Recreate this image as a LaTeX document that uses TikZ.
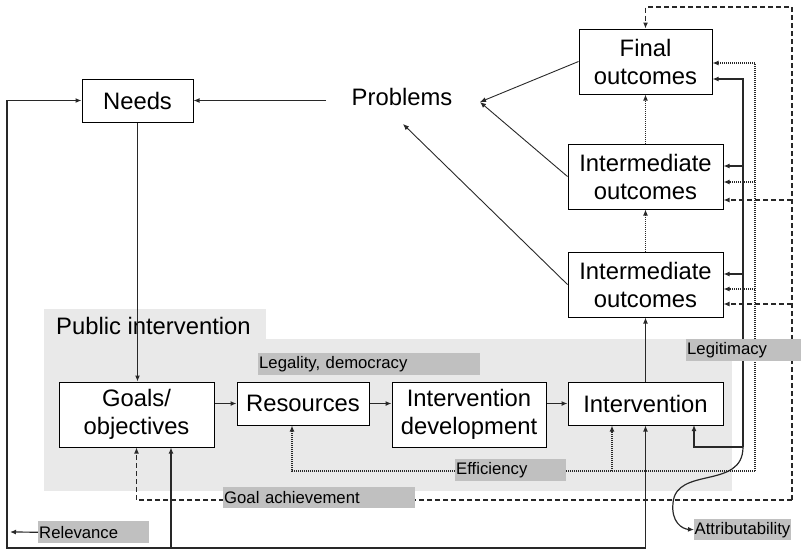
\documentclass[tikz,border=0pt]{standalone}
\usepackage{fontspec}
\setmainfont{Liberation Sans}
\usetikzlibrary{arrows.meta}
\definecolor{bgc}{RGB}{233,233,233}
\definecolor{labc}{RGB}{192,192,192}
\definecolor{linec}{RGB}{40,40,40}
\begin{document}
\begin{tikzpicture}[x=1pt,y=-1pt,
  box/.style={draw=black,line width=1pt,fill=white,inner sep=0pt,align=center,font=\fontsize{23.8}{28}\selectfont},
  lab/.style={fill=labc,inner xsep=1pt,inner ysep=0pt,anchor=north west,align=left,font=\fontsize{16.7}{19}\selectfont},
  ln/.style={draw=linec,line width=1.2pt},
  arr/.style={-{Latex[length=6pt,width=5pt]}},
  dot/.style={dash pattern=on 1pt off 1pt},
  dsh/.style={dash pattern=on 5pt off 3pt}]
\useasboundingbox (0,0) rectangle (801,550);
% background
\fill[bgc] (44,309) rectangle (266,340);
\fill[bgc] (44,339) rectangle (732,491);
\node[anchor=west,inner sep=0pt,font=\fontsize{23.8}{28}\selectfont] (PI) at (56,326) {Public intervention};
% boxes
\node[box,minimum width=133pt,minimum height=65pt] (Final) at (645.5,61.5) {Final\\outcomes};
\node[box,minimum width=155pt,minimum height=65pt] (Int1) at (645.5,176.5) {Intermediate\\outcomes};
\node[box,minimum width=155pt,minimum height=65pt] (Int2) at (645.5,284.5) {Intermediate\\outcomes};
\node[box,minimum width=111pt,minimum height=43pt] (Needs) at (137.5,100.5) {Needs};
\node[inner sep=0pt,font=\fontsize{23.8}{28}\selectfont] (Problems) at (402,97) {Problems};
\node[box,minimum width=155pt,minimum height=65pt] (Goals) at (136.5,414.5) {Goals/\\objectives};
\node[box,minimum width=132pt,minimum height=43pt] (Resources) at (303,403.5) {Resources};
\node[box,minimum width=154pt,minimum height=65pt] (IntDev) at (469,414.5) {Intervention\\development};
\node[box,minimum width=155pt,minimum height=43pt] (Intervention) at (645.5,403.5) {Intervention};
% coordinates
\coordinate (pr1) at (480,102);
\coordinate (pr2) at (403,124);
\coordinate (prL) at (326,100.5);
\coordinate (bl) at (7,548);
\coordinate (gS) at (171,548);
\coordinate (relT) at (10,532);
\coordinate (s1) at (743,79);
\coordinate (s2) at (743,166);
\coordinate (s3) at (743,274);
\coordinate (s4) at (743,447);
\coordinate (iv3) at (694,425);
\coordinate (d1) at (755,63);
\coordinate (d2) at (755,182);
\coordinate (d3) at (755,289);
\coordinate (d4) at (755,471);
\coordinate (e1) at (292,471);
\coordinate (e2) at (612,471);
\coordinate (a0) at (792,7);
\coordinate (a1) at (792,200);
\coordinate (a2) at (792,304);
\coordinate (a3) at (792,500);
% solid connectors
\draw[ln,arr] (prL) -- (Needs.east);
\draw[ln,arr,line width=0.9pt] (Final.west) -- (pr1);
\draw[ln,arr,line width=0.9pt] (Int1.west) -- (pr1);
\draw[ln,arr,line width=0.9pt] (Int2.west) -- (pr2);
\draw[ln,arr] (Needs.south) -- (Needs.south |- Goals.north);
\draw[ln,arr] (Resources.west -| Goals.east) -- (Resources.west);
\draw[ln,arr] (Resources.east) -- (Resources.east -| IntDev.west);
\draw[ln,arr] (Intervention.west -| IntDev.east) -- (Intervention.west);
\draw[ln,arr] (Intervention.north) -- (Int2.south);
\draw[ln,arr] (Intervention.south |- bl) -- (bl) |- (Needs.west);
\draw[ln,arr] (Intervention.south |- bl) -- (Intervention.south);
\draw[ln,arr] (gS) -- (gS |- Goals.south);
\draw[ln,arr] (s4) -- (s1) -- (s1 -| Final.east);
\draw[ln,arr] (s2) -- (s2 -| Int1.east);
\draw[ln,arr] (s3) -- (s3 -| Int2.east);
\draw[ln,arr] (s4) -| (iv3);
% dotted connectors
\draw[ln,dot,arr] (Int2.north) -- (Int1.south);
\draw[ln,dot,arr] (Int1.north) -- (Final.south);
\draw[ln,dot,arr] (d4) -- (d1) -- (d1 -| Final.east);
\draw[ln,dot,arr] (d2) -- (d2 -| Int1.east);
\draw[ln,dot,arr] (d3) -- (d3 -| Int2.east);
\draw[ln,dot,arr] (d4) -- (e1) -- (e1 |- Resources.south);
\draw[ln,dot,arr] (e2) -- (e2 |- Intervention.south);
% dashed connectors
\draw[ln,dsh,arr] (a3) -- (a0) -| (Final.north);
\draw[ln,dsh,arr] (a1) -- (a1 -| Int1.east);
\draw[ln,dsh,arr] (a2) -- (a2 -| Int2.east);
\draw[ln,dsh,arr] (a3) -- (Goals.south |- a3) -- (Goals.south);
% labels
\node[lab,text width=220pt,minimum height=22pt] (Legality) at (258,353) {Legality, democracy};
\node[lab,text width=113pt,minimum height=22pt] (Legitimacy) at (686,339) {Legitimacy};
\node[lab,text width=109pt,minimum height=22pt] (Efficiency) at (455,459) {Efficiency};
\node[lab,text width=190pt,minimum height=21pt] (GoalAch) at (223,487) {Goal achievement};
\node[lab,text width=109pt,minimum height=22pt] (Relevance) at (38,521) {Relevance};
\node[lab,text width=96pt,minimum height=21pt,inner xsep=0.5pt] (Attrib) at (694,519) {Attributability};
\draw[ln,arr] (Relevance.west) -- (relT);
\draw[ln,arr] (s4) .. controls (743,490) and (676,466) .. (673,503) .. controls (671,522) and (682,529) .. (Attrib.west);
\end{tikzpicture}
\end{document}
